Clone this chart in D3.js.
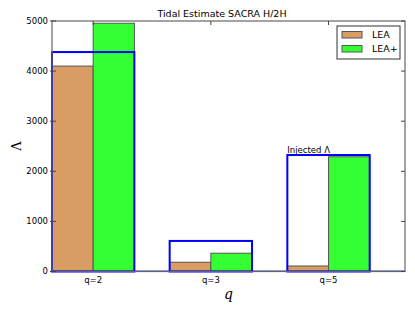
<!DOCTYPE html>
<html>
<head>
<meta charset="utf-8">
<script src="https://cdn.jsdelivr.net/npm/d3@7"></script>
<style>
  body { margin: 0; background: #fff; }
  text { font-family: "DejaVu Sans", sans-serif; }
</style>
</head>
<body>
<svg width="415" height="312"></svg>
<script>
// chart data
var categories = ["q=2", "q=3", "q=5"];
var lea = [4100, 185, 110];
var leaPlus = [4955, 365, 2290];
var injected = [4380, 610, 2325];
var yTicks = [0, 1000, 2000, 3000, 4000, 5000];
var seriesNames = ["LEA", "LEA+"];

var svg = d3.select("svg"),
  margin = {top: 21, right: 10, bottom: 40.5, left: 52},
  width = svg.attr("width") - margin.left - margin.right,
  height = svg.attr("height") - margin.top - margin.bottom,
  g = svg.append("g").attr("transform", "translate(" + margin.left + "," + margin.top + ")");

var barW = 0.35;
var x = d3.scaleLinear().domain([0, 3]).range([0, width]);
var y = d3.scaleLinear().domain([0, 5000]).range([height, 0]);
var colors = ["#d89c64", "#33ff33"];

// LEA bars
g.selectAll("rect.lea")
  .data(lea)
  .enter().append("rect")
  .attr("class", "lea")
  .attr("x", function(d, i) { return x(i); })
  .attr("width", x(barW) - x(0))
  .attr("y", function(d) { return y(d); })
  .attr("height", function(d) { return y(0) - y(d); })
  .style("fill", colors[0])
  .style("stroke", "#555")
  .style("stroke-width", 1);

// LEA+ bars
g.selectAll("rect.leap")
  .data(leaPlus)
  .enter().append("rect")
  .attr("class", "leap")
  .attr("x", function(d, i) { return x(i + barW); })
  .attr("width", x(barW) - x(0))
  .attr("y", function(d) { return y(d); })
  .attr("height", function(d) { return y(0) - y(d); })
  .style("fill", colors[1])
  .style("stroke", "#555")
  .style("stroke-width", 1);

// injected lambda outline
g.selectAll("rect.inj")
  .data(injected)
  .enter().append("rect")
  .attr("class", "inj")
  .attr("x", function(d, i) { return x(i); })
  .attr("width", x(2 * barW) - x(0))
  .attr("y", function(d) { return y(d); })
  .attr("height", function(d) { return y(0) - y(d); })
  .style("fill", "none")
  .style("stroke", "#0000ff")
  .style("stroke-width", 2);

g.append("text")
  .attr("x", x(2))
  .attr("y", y(injected[2]) - 2.5)
  .style("font-size", "8.5px")
  .text("Injected \u039b");

g.append("line")
  .attr("x1", 0).attr("x2", width)
  .attr("y1", y(0) - 0.5).attr("y2", y(0) - 0.5)
  .style("stroke", "#3333cc")
  .style("stroke-width", 1);

// frame
g.append("rect")
  .attr("width", width).attr("height", height)
  .style("fill", "none")
  .style("stroke", "#666")
  .style("stroke-width", 1.2);

// y ticks, left and right, pointing inside
g.selectAll("line.ytl")
  .data(yTicks)
  .enter().append("line")
  .attr("x1", -2).attr("x2", 4)
  .attr("y1", function(d) { return y(d); })
  .attr("y2", function(d) { return y(d); })
  .style("stroke", "#444");

g.selectAll("line.ytr")
  .data(yTicks)
  .enter().append("line")
  .attr("x1", width - 4).attr("x2", width)
  .attr("y1", function(d) { return y(d); })
  .attr("y2", function(d) { return y(d); })
  .style("stroke", "#444");

g.selectAll("text.ylab")
  .data(yTicks)
  .enter().append("text")
  .attr("x", -4)
  .attr("y", function(d) { return y(d); })
  .attr("dy", "0.35em")
  .attr("text-anchor", "end")
  .style("font-size", "8.5px")
  .text(function(d) { return d; });

// x ticks
g.selectAll("line.xt")
  .data(categories)
  .enter().append("line")
  .attr("x1", function(d, i) { return x(i + barW); })
  .attr("x2", function(d, i) { return x(i + barW); })
  .attr("y1", 0).attr("y2", 4)
  .style("stroke", "#444");

g.selectAll("text.xlab")
  .data(categories)
  .enter().append("text")
  .attr("x", function(d, i) { return x(i + barW); })
  .attr("y", height + 11)
  .attr("text-anchor", "middle")
  .style("font-size", "8.5px")
  .text(function(d) { return d; });

// titles
svg.append("text")
  .attr("x", 222)
  .attr("y", 16.5)
  .attr("text-anchor", "middle")
  .style("font-size", "9.5px")
  .text("Tidal Estimate SACRA H/2H");

svg.append("text")
  .attr("x", margin.left + width / 2)
  .attr("y", 299)
  .attr("text-anchor", "middle")
  .style("font-family", "'DejaVu Serif', serif")
  .style("font-style", "italic")
  .style("font-size", "14px")
  .text("q");

svg.append("text")
  .attr("transform", "translate(21,146) rotate(-90)")
  .attr("text-anchor", "middle")
  .style("font-family", "'DejaVu Serif', serif")
  .style("font-size", "13px")
  .text("\u039b");

// legend
var legend = g.append("g").attr("transform", "translate(" + (width - 68) + ",5)");
legend.append("rect")
  .attr("width", 63).attr("height", 33)
  .style("fill", "#fff")
  .style("stroke", "#333")
  .style("stroke-width", 1);

var item = legend.selectAll("g.item")
  .data(seriesNames)
  .enter().append("g")
  .attr("class", "item")
  .attr("transform", function(d, i) { return "translate(5," + (5.5 + i * 14) + ")"; });

item.append("rect")
  .attr("width", 20).attr("height", 6.5)
  .style("fill", function(d, i) { return colors[i]; })
  .style("stroke", "#555");

item.append("text")
  .attr("x", 30)
  .attr("y", 3.5)
  .attr("dy", "0.35em")
  .style("font-size", "9.5px")
  .text(function(d) { return d; });
</script>
</body>
</html>
